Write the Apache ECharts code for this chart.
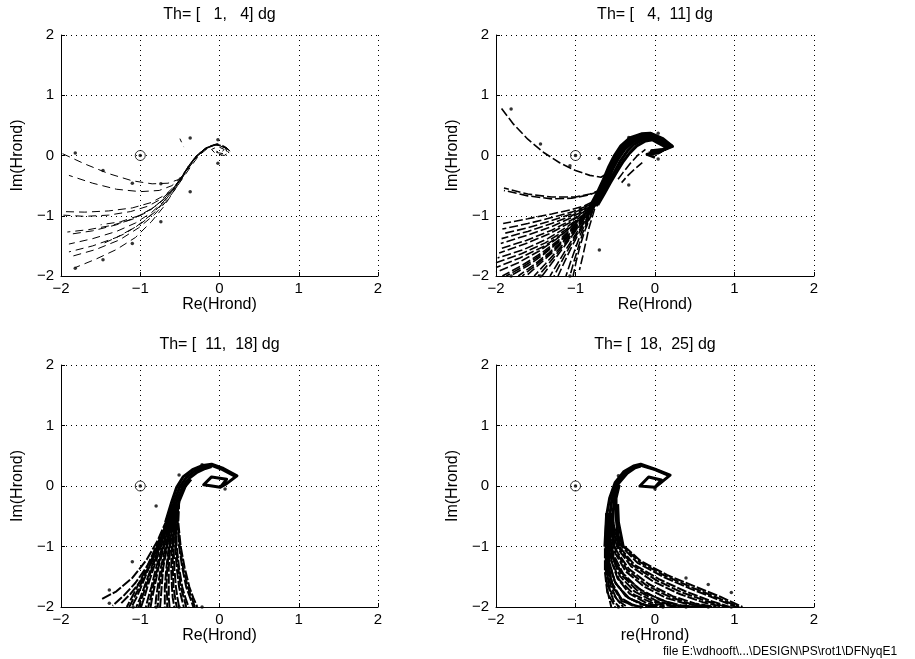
<!DOCTYPE html>
<html>
<head>
<meta charset="utf-8">
<title>Nyquist Hrond</title>
<script src="https://cdn.jsdelivr.net/npm/echarts@6/dist/echarts.min.js"></script>
<style>
  html, body { margin: 0; padding: 0; background: #fff; }
  #chart { width: 915px; height: 659px; }
</style>
</head>
<body>
<div id="chart"></div>
<script>
// titels en aslabels per subplot
const titles = ['Th= [   1,   4] dg', 'Th= [   4,  11] dg', 'Th= [  11,  18] dg', 'Th= [  18,  25] dg']
const xNames = ['Re(Hrond)', 'Re(Hrond)', 'Re(Hrond)', 're(Hrond)']
const yNames = ['Im(Hrond)', 'Im(Hrond)', 'Im(Hrond)', 'Im(Hrond)']
const axisTicks = [-2, -1, 0, 1, 2]
const criticalPoint = [[-1, 0]]
const footer = 'file E:\\vdhooft\\...\\DESIGN\\PS\\rot1\\DFNyqE1'

// ---- Th = [1, 4] ----
const p1Curves = [
  [[-1.98, 0.03], [-1.7, -0.14], [-1.4, -0.3], [-1.1, -0.42], [-0.85, -0.47], [-0.65, -0.46], [-0.52, -0.4], [-0.43, -0.26], [-0.34, -0.1], [-0.24, 0.05], [-0.12, 0.16], [-0.01, 0.2], [0.08, 0.14], [0.14, 0.06]],
  [[-1.9, -0.33], [-1.6, -0.46], [-1.3, -0.56], [-1.0, -0.6], [-0.76, -0.58], [-0.6, -0.5], [-0.48, -0.36], [-0.38, -0.17], [-0.28, 0.0], [-0.16, 0.13], [-0.04, 0.19], [0.07, 0.15], [0.13, 0.07]],
  [[-2.0, -0.93], [-1.7, -0.94], [-1.4, -0.92], [-1.1, -0.87], [-0.86, -0.78], [-0.68, -0.65], [-0.56, -0.5], [-0.46, -0.33], [-0.37, -0.14], [-0.27, 0.02], [-0.14, 0.15], [0.0, 0.19], [0.1, 0.11], [0.05, 0.03], [-0.04, 0.05]],
  [[-1.97, -0.99], [-1.7, -1.01], [-1.4, -0.99], [-1.12, -0.93], [-0.9, -0.84], [-0.72, -0.71], [-0.58, -0.54], [-0.48, -0.36], [-0.39, -0.17], [-0.29, 0.0], [-0.17, 0.13], [-0.03, 0.18], [0.08, 0.12], [0.12, 0.04]],
  [[-1.92, -1.27], [-1.65, -1.23], [-1.36, -1.16], [-1.1, -1.06], [-0.9, -0.93], [-0.73, -0.76], [-0.6, -0.58], [-0.5, -0.4], [-0.41, -0.21], [-0.31, -0.03], [-0.19, 0.11], [-0.06, 0.18], [0.06, 0.15], [0.13, 0.08]],
  [[-1.9, -1.31], [-1.6, -1.25], [-1.3, -1.15], [-1.06, -1.03], [-0.86, -0.89], [-0.7, -0.72], [-0.58, -0.55], [-0.48, -0.37], [-0.39, -0.18], [-0.28, -0.01], [-0.16, 0.13], [-0.03, 0.18], [0.07, 0.13], [0.1, 0.05]],
  [[-1.9, -1.47], [-1.6, -1.38], [-1.3, -1.26], [-1.06, -1.12], [-0.86, -0.95], [-0.71, -0.77], [-0.59, -0.58], [-0.49, -0.4], [-0.4, -0.21], [-0.3, -0.03], [-0.18, 0.11], [-0.05, 0.18], [0.06, 0.14]],
  [[-1.9, -1.6], [-1.6, -1.5], [-1.3, -1.36], [-1.05, -1.18], [-0.86, -0.98], [-0.7, -0.77], [-0.58, -0.57], [-0.48, -0.38], [-0.38, -0.19], [-0.28, -0.01], [-0.16, 0.12], [-0.04, 0.18]],
  [[-1.88, -1.68], [-1.56, -1.56], [-1.26, -1.4], [-1.02, -1.2], [-0.82, -0.98], [-0.67, -0.76], [-0.56, -0.56], [-0.46, -0.37], [-0.36, -0.18], [-0.26, 0.0], [-0.14, 0.13]],
  [[-1.82, -1.86], [-1.56, -1.72], [-1.3, -1.56], [-1.06, -1.36], [-0.86, -1.1], [-0.71, -0.86], [-0.6, -0.64], [-0.5, -0.44], [-0.41, -0.24], [-0.31, -0.05], [-0.2, 0.1], [-0.07, 0.18]],
  [[-1.5, -1.15], [-1.25, -1.1], [-1.02, -1.0], [-0.84, -0.87], [-0.69, -0.71], [-0.57, -0.53]],
  [[-1.45, -1.45], [-1.2, -1.3], [-0.98, -1.12], [-0.8, -0.92], [-0.66, -0.72]],
  [[-0.5, 0.28], [-0.45, 0.14]],
  [[0.14, 0.07], [0.06, 0.0], [-0.05, 0.03], [-0.1, 0.1], [-0.02, 0.15], [0.06, 0.1], [0.02, 0.05], [-0.04, 0.07]]
]
const p1Solid = []
const p1Dots = [[-1.82, 0.04], [-1.47, -0.25], [-1.1, -0.46], [-0.74, -0.47], [-0.37, 0.29], [-0.02, 0.26], [-0.02, -0.13],
  [-0.37, -0.6], [-0.74, -1.1], [-1.1, -1.46], [-1.47, -1.73], [-1.82, -1.87], [-1, 0]]

// ---- Th = [4, 11] ----
const p2Curves = [
  [[-1.93, 0.78], [-1.78, 0.52], [-1.6, 0.27], [-1.4, 0.05], [-1.2, -0.12], [-1.0, -0.25], [-0.82, -0.33], [-0.68, -0.36], [-0.6, -0.3]],
  [[-1.9, -0.54], [-1.6, -0.64], [-1.3, -0.69], [-1.0, -0.69], [-0.82, -0.64], [-0.7, -0.58]],
  [[-1.9, -0.58], [-1.6, -0.67], [-1.3, -0.72], [-1.05, -0.71], [-0.85, -0.66], [-0.72, -0.6]],
  [[-1.91, -1.13], [-1.6, -1.05], [-1.3, -0.97], [-1.05, -0.9], [-0.88, -0.83], [-0.76, -0.75]],
  [[-1.92, -1.22], [-1.6, -1.13], [-1.3, -1.03], [-1.05, -0.94], [-0.88, -0.85], [-0.76, -0.76]],
  [[-1.92, -1.3], [-1.6, -1.2], [-1.3, -1.08], [-1.05, -0.97], [-0.88, -0.86], [-0.76, -0.77]],
  [[-1.93, -1.38], [-1.6, -1.26], [-1.3, -1.13], [-1.05, -1.0], [-0.88, -0.88], [-0.76, -0.78]],
  [[-1.94, -1.46], [-1.6, -1.32], [-1.3, -1.18], [-1.05, -1.03], [-0.88, -0.9], [-0.76, -0.79]],
  [[-1.95, -1.55], [-1.62, -1.41], [-1.3, -1.24], [-1.05, -1.07], [-0.88, -0.92], [-0.77, -0.8]],
  [[-1.96, -1.62], [-1.64, -1.47], [-1.33, -1.3], [-1.08, -1.12], [-0.9, -0.95], [-0.77, -0.81]],
  [[-1.98, -1.7], [-1.65, -1.56], [-1.35, -1.38], [-1.1, -1.18], [-0.9, -0.98], [-0.77, -0.82]],
  [[-2.0, -1.78], [-1.68, -1.63], [-1.38, -1.45], [-1.13, -1.24], [-0.92, -1.01], [-0.78, -0.83]],
  [[-2.0, -1.86], [-1.7, -1.7], [-1.4, -1.51], [-1.15, -1.29], [-0.93, -1.04], [-0.78, -0.83]],
  [[-2.0, -1.94], [-1.72, -1.78], [-1.45, -1.58], [-1.2, -1.35], [-0.96, -1.08], [-0.78, -0.84]],
  [[-1.92, -2.0], [-1.68, -1.83], [-1.43, -1.62], [-1.18, -1.37], [-0.95, -1.09], [-0.78, -0.84]],
  [[-1.87, -2.0], [-1.64, -1.83], [-1.4, -1.62], [-1.16, -1.37], [-0.95, -1.09], [-0.78, -0.84]],
  [[-1.82, -2.0], [-1.6, -1.83], [-1.38, -1.62], [-1.15, -1.37], [-0.94, -1.09], [-0.78, -0.84]],
  [[-1.72, -2.0], [-1.53, -1.82], [-1.33, -1.61], [-1.12, -1.36], [-0.93, -1.09], [-0.78, -0.84]],
  [[-1.67, -2.0], [-1.5, -1.82], [-1.3, -1.6], [-1.1, -1.35], [-0.92, -1.08], [-0.78, -0.84]],
  [[-1.62, -2.0], [-1.46, -1.81], [-1.28, -1.6], [-1.09, -1.35], [-0.92, -1.08], [-0.78, -0.84]],
  [[-1.52, -2.0], [-1.38, -1.8], [-1.23, -1.58], [-1.06, -1.33], [-0.91, -1.07], [-0.78, -0.84]],
  [[-1.47, -2.0], [-1.34, -1.8], [-1.2, -1.57], [-1.04, -1.32], [-0.9, -1.07], [-0.77, -0.83]],
  [[-1.42, -2.0], [-1.3, -1.79], [-1.17, -1.56], [-1.03, -1.31], [-0.89, -1.06], [-0.77, -0.83]],
  [[-1.32, -2.0], [-1.22, -1.78], [-1.11, -1.54], [-0.99, -1.29], [-0.87, -1.05], [-0.77, -0.83]],
  [[-1.27, -2.0], [-1.18, -1.77], [-1.08, -1.53], [-0.97, -1.28], [-0.86, -1.05], [-0.76, -0.82]],
  [[-1.22, -2.0], [-1.14, -1.77], [-1.05, -1.52], [-0.95, -1.27], [-0.85, -1.04], [-0.76, -0.82]],
  [[-1.12, -2.0], [-1.06, -1.76], [-0.99, -1.5], [-0.92, -1.25], [-0.83, -1.02], [-0.76, -0.82]],
  [[-1.07, -2.0], [-1.02, -1.76], [-0.96, -1.5], [-0.9, -1.25], [-0.82, -1.02], [-0.75, -0.81]],
  [[-1.03, -2.0], [-0.99, -1.75], [-0.94, -1.49], [-0.88, -1.24], [-0.81, -1.01], [-0.75, -0.81]],
  [[-0.95, -1.9], [-0.91, -1.68], [-0.87, -1.44], [-0.83, -1.2], [-0.78, -0.98], [-0.74, -0.8]],
  [[-0.48, -0.42], [-0.4, -0.28], [-0.31, -0.13], [-0.22, 0.0], [-0.12, 0.1]],
  [[-0.42, -0.45], [-0.34, -0.33], [-0.25, -0.22], [-0.16, -0.12]]
]
const p2Solid = [
  [[-0.8, -0.8], [-0.72, -0.6], [-0.65, -0.4], [-0.58, -0.18], [-0.51, 0.0], [-0.43, 0.16], [-0.32, 0.29], [-0.17, 0.36], [-0.06, 0.37], [0.1, 0.28], [0.22, 0.15], [0.12, 0.1]],
  [[-0.78, -0.82], [-0.7, -0.62], [-0.63, -0.42], [-0.56, -0.2], [-0.49, -0.02], [-0.41, 0.14], [-0.3, 0.27], [-0.15, 0.35], [-0.05, 0.36], [0.08, 0.27], [0.21, 0.16], [0.1, 0.1], [-0.05, 0.08]],
  [[-0.77, -0.83], [-0.69, -0.63], [-0.61, -0.43], [-0.54, -0.21], [-0.47, -0.03], [-0.39, 0.12], [-0.29, 0.25], [-0.15, 0.32], [-0.05, 0.34], [0.08, 0.26], [0.2, 0.15], [0.09, 0.09], [-0.06, 0.07]],
  [[-0.76, -0.84], [-0.68, -0.64], [-0.6, -0.44], [-0.53, -0.22], [-0.46, -0.05], [-0.38, 0.1], [-0.28, 0.22], [-0.15, 0.3], [-0.05, 0.32], [0.07, 0.25], [0.19, 0.15], [0.08, 0.08], [-0.06, 0.06]],
  [[-0.74, -0.84], [-0.66, -0.65], [-0.58, -0.45], [-0.5, -0.25], [-0.43, -0.08], [-0.35, 0.07], [-0.26, 0.19], [-0.14, 0.27], [-0.04, 0.29], [0.06, 0.23], [0.17, 0.14], [0.06, 0.06], [-0.08, 0.04]],
  [[-0.72, -0.82], [-0.64, -0.64], [-0.56, -0.45], [-0.48, -0.27], [-0.4, -0.1], [-0.32, 0.04], [-0.23, 0.16], [-0.12, 0.24], [-0.03, 0.26], [0.05, 0.2], [0.15, 0.13], [0.04, 0.04], [-0.1, 0.02], [0.0, -0.03]]
]
const p2Dots = [[-1.81, 0.77], [-1.44, 0.19], [-1.07, -0.17], [-0.7, -0.05], [-0.33, 0.3], [0.04, 0.37], [0.04, -0.06],
  [-0.33, -0.49], [-0.7, -1.57], [-1.81, -2], [-1.44, -2], [-1.07, -2], [-1, 0]]

// ---- Th = [11, 18] ----
const p3Curves = [
  [[-0.62, -0.35], [-0.68, -0.6], [-0.78, -0.9], [-0.92, -1.22], [-1.1, -1.52], [-1.3, -1.74], [-1.5, -1.88]],
  [[-0.61, -0.35], [-0.67, -0.62], [-0.77, -0.95], [-0.9, -1.3], [-1.06, -1.6], [-1.2, -1.8], [-1.35, -1.98]],
  [[-0.6, -0.35], [-0.66, -0.62], [-0.75, -0.95], [-0.87, -1.3], [-1.0, -1.58], [-1.12, -1.78], [-1.25, -1.95]],
  [[-0.6, -0.3], [-0.66, -0.6], [-0.8, -1.0], [-0.92, -1.35], [-1.04, -1.67], [-1.11, -1.85], [-1.17, -2]],
  [[-0.6, -0.3], [-0.66, -0.6], [-0.79, -1.0], [-0.9, -1.35], [-1.01, -1.67], [-1.08, -1.85], [-1.14, -2]],
  [[-0.6, -0.3], [-0.65, -0.6], [-0.78, -1.0], [-0.89, -1.35], [-0.99, -1.67], [-1.05, -1.85], [-1.11, -2]],
  [[-0.59, -0.3], [-0.65, -0.6], [-0.76, -1.0], [-0.86, -1.35], [-0.95, -1.67], [-1.0, -1.85], [-1.05, -2]],
  [[-0.59, -0.3], [-0.64, -0.6], [-0.75, -1.0], [-0.85, -1.35], [-0.93, -1.67], [-0.98, -1.85], [-1.02, -2]],
  [[-0.59, -0.3], [-0.64, -0.6], [-0.74, -1.0], [-0.83, -1.35], [-0.91, -1.67], [-0.95, -1.85], [-0.99, -2]],
  [[-0.58, -0.3], [-0.63, -0.6], [-0.72, -1.0], [-0.8, -1.35], [-0.86, -1.67], [-0.9, -1.85], [-0.93, -2]],
  [[-0.58, -0.3], [-0.63, -0.6], [-0.71, -1.0], [-0.78, -1.35], [-0.84, -1.67], [-0.87, -1.85], [-0.9, -2]],
  [[-0.58, -0.3], [-0.62, -0.6], [-0.7, -1.0], [-0.77, -1.35], [-0.82, -1.67], [-0.85, -1.85], [-0.87, -2]],
  [[-0.57, -0.3], [-0.62, -0.6], [-0.68, -1.0], [-0.74, -1.35], [-0.78, -1.67], [-0.8, -1.85], [-0.81, -2]],
  [[-0.57, -0.3], [-0.61, -0.6], [-0.67, -1.0], [-0.72, -1.35], [-0.76, -1.67], [-0.77, -1.85], [-0.78, -2]],
  [[-0.57, -0.3], [-0.61, -0.6], [-0.66, -1.0], [-0.71, -1.35], [-0.73, -1.67], [-0.74, -1.85], [-0.75, -2]],
  [[-0.56, -0.3], [-0.6, -0.6], [-0.64, -1.0], [-0.67, -1.35], [-0.69, -1.67], [-0.69, -1.85], [-0.69, -2]],
  [[-0.56, -0.3], [-0.59, -0.6], [-0.63, -1.0], [-0.66, -1.35], [-0.67, -1.67], [-0.66, -1.85], [-0.66, -2]],
  [[-0.56, -0.3], [-0.59, -0.6], [-0.62, -1.0], [-0.64, -1.35], [-0.64, -1.67], [-0.64, -1.85], [-0.63, -2]],
  [[-0.55, -0.3], [-0.58, -0.6], [-0.6, -1.0], [-0.61, -1.35], [-0.6, -1.67], [-0.59, -1.85], [-0.57, -2]],
  [[-0.55, -0.3], [-0.57, -0.6], [-0.59, -1.0], [-0.59, -1.35], [-0.58, -1.67], [-0.56, -1.85], [-0.54, -2]],
  [[-0.55, -0.3], [-0.57, -0.6], [-0.58, -1.0], [-0.57, -1.35], [-0.55, -1.67], [-0.53, -1.85], [-0.51, -2]],
  [[-0.54, -0.3], [-0.56, -0.6], [-0.56, -1.0], [-0.54, -1.35], [-0.51, -1.67], [-0.48, -1.85], [-0.45, -2]],
  [[-0.53, -0.3], [-0.55, -0.6], [-0.55, -1.0], [-0.52, -1.35], [-0.49, -1.67], [-0.45, -1.85], [-0.42, -2]],
  [[-0.53, -0.3], [-0.55, -0.6], [-0.54, -1.0], [-0.51, -1.35], [-0.47, -1.67], [-0.43, -1.85], [-0.39, -2]],
  [[-0.52, -0.3], [-0.53, -0.6], [-0.51, -1.0], [-0.47, -1.35], [-0.42, -1.67], [-0.37, -1.85], [-0.33, -2]],
  [[-0.52, -0.3], [-0.53, -0.6], [-0.5, -1.0], [-0.46, -1.35], [-0.4, -1.67], [-0.35, -1.85], [-0.31, -2]],
  [[-0.51, -0.3], [-0.52, -0.6], [-0.49, -1.0], [-0.44, -1.35], [-0.38, -1.67], [-0.33, -1.85], [-0.28, -2]]
]
const p3Solid = [
  [[-0.68, -0.6], [-0.6, -0.25], [-0.54, -0.02], [-0.46, 0.15], [-0.34, 0.27], [-0.21, 0.34], [-0.1, 0.36], [0.05, 0.29], [0.22, 0.17], [0.09, 0.04], [0.01, -0.02], [-0.2, 0.02], [-0.1, 0.15], [0.09, 0.11], [0.01, -0.02]],
  [[-0.64, -0.6], [-0.57, -0.25], [-0.5, -0.01], [-0.42, 0.14], [-0.31, 0.25], [-0.2, 0.31], [-0.1, 0.34], [0.04, 0.27], [0.2, 0.16]],
  [[-0.6, -0.6], [-0.54, -0.25], [-0.46, 0.0], [-0.38, 0.13], [-0.28, 0.23], [-0.18, 0.29], [-0.1, 0.32]],
  [[-0.56, -0.6], [-0.51, -0.25], [-0.43, 0.0], [-0.36, 0.11]]
]
const p3Dots = [[-0.22, 0.35], [-0.51, 0.18], [-0.8, -0.33], [0.07, -0.05], [-1.1, -1.25], [-1.39, -1.72], [-1.39, -1.94],
  [-1.09, -2], [-0.8, -2], [-0.51, -2], [-0.22, -2], [-1, 0]]

// ---- Th = [18, 25] ----
const p4Curves = [
  [[-0.55, -0.45], [-0.51, -0.7], [-0.4, -0.98], [-0.18, -1.24], [0.15, -1.47], [0.5, -1.66], [0.82, -1.83], [1.1, -2]],
  [[-0.55, -0.45], [-0.51, -0.71], [-0.41, -0.99], [-0.2, -1.25], [0.12, -1.48], [0.47, -1.68], [0.79, -1.85], [1.06, -2]],
  [[-0.56, -0.45], [-0.52, -0.72], [-0.42, -1.0], [-0.22, -1.27], [0.1, -1.5], [0.45, -1.7], [0.76, -1.86], [1.02, -2]],
  [[-0.56, -0.45], [-0.53, -0.74], [-0.44, -1.02], [-0.26, -1.3], [0.05, -1.54], [0.38, -1.74], [0.68, -1.89], [0.94, -2]],
  [[-0.56, -0.45], [-0.53, -0.75], [-0.45, -1.03], [-0.28, -1.31], [0.02, -1.56], [0.34, -1.76], [0.64, -1.9], [0.9, -2]],
  [[-0.57, -0.45], [-0.54, -0.76], [-0.46, -1.05], [-0.3, -1.33], [-0.02, -1.58], [0.3, -1.78], [0.6, -1.92], [0.86, -2]],
  [[-0.57, -0.45], [-0.55, -0.78], [-0.48, -1.08], [-0.33, -1.37], [-0.08, -1.62], [0.22, -1.82], [0.5, -1.94], [0.77, -2]],
  [[-0.57, -0.45], [-0.55, -0.79], [-0.49, -1.09], [-0.35, -1.39], [-0.11, -1.64], [0.18, -1.83], [0.45, -1.95], [0.72, -2]],
  [[-0.58, -0.45], [-0.56, -0.8], [-0.5, -1.11], [-0.37, -1.41], [-0.14, -1.66], [0.14, -1.85], [0.4, -1.95], [0.68, -2]],
  [[-0.58, -0.45], [-0.57, -0.82], [-0.52, -1.14], [-0.4, -1.45], [-0.2, -1.7], [0.06, -1.88], [0.32, -1.97], [0.58, -2]],
  [[-0.58, -0.45], [-0.57, -0.83], [-0.53, -1.15], [-0.42, -1.47], [-0.23, -1.72], [0.02, -1.9], [0.27, -1.98], [0.53, -2]],
  [[-0.59, -0.45], [-0.58, -0.84], [-0.54, -1.17], [-0.44, -1.49], [-0.26, -1.74], [-0.02, -1.91], [0.22, -1.98], [0.48, -2]],
  [[-0.59, -0.45], [-0.58, -0.85], [-0.53, -1.2], [-0.38, -1.5], [-0.14, -1.76], [0.2, -1.94], [0.4, -2]],
  [[-0.59, -0.45], [-0.59, -0.87], [-0.55, -1.22], [-0.45, -1.55], [-0.26, -1.8], [0.0, -1.95], [0.3, -2]],
  [[-0.59, -0.45], [-0.59, -0.86], [-0.56, -1.2], [-0.47, -1.53], [-0.32, -1.78], [-0.1, -1.94], [0.12, -2]],
  [[-0.6, -0.45], [-0.6, -0.88], [-0.58, -1.23], [-0.51, -1.57], [-0.37, -1.82], [-0.17, -1.96], [0.02, -2]],
  [[-0.6, -0.45], [-0.6, -0.9], [-0.57, -1.28], [-0.5, -1.6], [-0.34, -1.85], [-0.12, -1.97], [0.07, -2]],
  [[-0.6, -0.45], [-0.61, -0.9], [-0.58, -1.3], [-0.49, -1.62], [-0.32, -1.86], [-0.05, -2]],
  [[-0.6, -0.45], [-0.61, -0.9], [-0.59, -1.27], [-0.54, -1.6], [-0.43, -1.85], [-0.26, -1.98], [-0.1, -2]],
  [[-0.6, -0.45], [-0.61, -0.93], [-0.59, -1.32], [-0.53, -1.66], [-0.42, -1.9], [-0.18, -2]],
  [[-0.6, -0.45], [-0.62, -0.95], [-0.6, -1.35], [-0.52, -1.7], [-0.4, -1.9], [-0.25, -2]],
  [[-0.6, -0.45], [-0.61, -0.92], [-0.6, -1.3], [-0.56, -1.64], [-0.48, -1.88], [-0.35, -2]],
  [[-0.61, -0.45], [-0.62, -0.97], [-0.61, -1.37], [-0.57, -1.72], [-0.4, -2]],
  [[-0.61, -0.45], [-0.62, -0.94], [-0.61, -1.34], [-0.58, -1.68], [-0.52, -1.9], [-0.45, -2]],
  [[-0.61, -0.45], [-0.62, -0.96], [-0.62, -1.38], [-0.6, -1.72], [-0.55, -2]],
  [[-0.61, -0.45], [-0.63, -1.0], [-0.63, -1.42], [-0.6, -1.76], [-0.5, -2]]
]
const p4Solid = [
  [[-0.63, -1.0], [-0.61, -0.5], [-0.57, -0.2], [-0.5, 0.06], [-0.39, 0.24], [-0.27, 0.33], [-0.18, 0.36], [0.0, 0.28], [0.19, 0.18], [0.06, 0.04], [0.0, -0.02], [-0.19, 0.0], [-0.08, 0.15], [0.08, 0.1], [0.0, -0.02]],
  [[-0.58, -1.0], [-0.57, -0.5], [-0.54, -0.2], [-0.48, 0.05], [-0.37, 0.22], [-0.26, 0.31], [-0.18, 0.34], [0.0, 0.27], [0.18, 0.17]],
  [[-0.52, -1.0], [-0.53, -0.5], [-0.51, -0.2], [-0.46, 0.04], [-0.35, 0.21], [-0.25, 0.3], [-0.18, 0.33]],
  [[-0.45, -1.0], [-0.49, -0.5], [-0.49, -0.2], [-0.45, 0.02]],
  [[-0.4, -1.0], [-0.46, -0.6], [-0.47, -0.3]]
]
const p4Dots = [[-0.46, 0.17], [-0.18, 0.35], [0.0, -0.05], [0.39, -1.52], [0.67, -1.63], [0.96, -1.76],
  [-0.46, -2], [-0.18, -2], [0.1, -2], [0.39, -2], [0.67, -2], [0.96, -2], [-1, 0]]

const panels = [
  { curves: p1Curves, solid: p1Solid, dots: p1Dots, dashWidth: 1, dash: [8, 5] },
  { curves: p2Curves, solid: p2Solid, dots: p2Dots, dashWidth: 1.6, dash: [9, 3] },
  { curves: p3Curves, solid: p3Solid, dots: p3Dots, dashWidth: 2, dash: [10, 2] },
  { curves: p4Curves, solid: p4Solid, dots: p4Dots, dashWidth: 2, dash: [10, 2] }
]

// plaatsing van de vier assenstelsels (px)
const gridBoxes = [
  { left: 61, top: 35, width: 317, height: 241 },
  { left: 496, top: 35, width: 318, height: 241 },
  { left: 61, top: 365, width: 317, height: 242 },
  { left: 496, top: 365, width: 318, height: 242 }
]

const FONT = 'Liberation Sans, Arial, Helvetica, sans-serif'
const minus = (v) => String(v).replace('-', '\u2212')

const grid = gridBoxes.map((g) => Object.assign({ outerBoundsMode: 'none', containLabel: false }, g))

const xAxis = gridBoxes.map((g, i) => ({
  gridIndex: i,
  type: 'value',
  min: axisTicks[0],
  max: axisTicks[axisTicks.length - 1],
  interval: 1,
  name: xNames[i],
  nameLocation: 'middle',
  nameGap: 19,
  nameTextStyle: { color: '#000', fontSize: 16, fontFamily: FONT },
  axisLine: { onZero: false, lineStyle: { color: '#000', width: 1 } },
  axisTick: { inside: true, length: 4, lineStyle: { color: '#000' } },
  axisLabel: { color: '#000', fontSize: 15, fontFamily: FONT, margin: 5, formatter: minus },
  splitLine: { show: true, lineStyle: { color: '#000', width: 1, type: [1, 4] } }
}))

const yAxis = gridBoxes.map((g, i) => ({
  gridIndex: i,
  type: 'value',
  min: axisTicks[0],
  max: axisTicks[axisTicks.length - 1],
  interval: 1,
  name: yNames[i],
  nameLocation: 'middle',
  nameGap: 35,
  nameTextStyle: { color: '#000', fontSize: 16, fontFamily: FONT },
  axisLine: { onZero: false, lineStyle: { color: '#000', width: 1 } },
  axisTick: { inside: true, length: 4, lineStyle: { color: '#000' } },
  axisLabel: { color: '#000', fontSize: 15, fontFamily: FONT, margin: 7, formatter: minus },
  splitLine: { show: true, lineStyle: { color: '#000', width: 1, type: [1, 4] } }
}))

const series = []
panels.forEach((p, i) => {
  p.curves.forEach((c, k) => {
    series.push({
      type: 'line', xAxisIndex: i, yAxisIndex: i, data: c,
      showSymbol: false, silent: true,
      // streepjes per curve laten verspringen, anders lopen ze gelijk
      lineStyle: { color: '#000', width: p.dashWidth, type: p.dash, dashOffset: (k * 4) % 11 }
    })
  })
  p.solid.forEach((c) => {
    series.push({
      type: 'line', xAxisIndex: i, yAxisIndex: i, data: c,
      showSymbol: false, silent: true,
      lineStyle: { color: '#000', width: 3, join: 'round' }
    })
  })
  series.push({
    type: 'scatter', xAxisIndex: i, yAxisIndex: i, data: p.dots,
    symbol: 'circle', symbolSize: 3.5, silent: true,
    itemStyle: { color: '#000' }
  })
  // kritisch punt (-1,0) als omcirkeld punt
  series.push({
    type: 'scatter', xAxisIndex: i, yAxisIndex: i, data: criticalPoint,
    symbol: 'circle', symbolSize: 10, silent: true,
    itemStyle: { color: 'rgba(0,0,0,0)', borderColor: '#000', borderWidth: 1 }
  })
})

const graphic = titles.map((t, i) => ({
  type: 'text',
  x: gridBoxes[i].left + gridBoxes[i].width / 2,
  y: gridBoxes[i].top - 20,
  style: { text: t, fill: '#000', font: '16px ' + FONT, textAlign: 'center', textVerticalAlign: 'middle' }
}))
graphic.push({
  type: 'text', x: 663, y: 652,
  style: { text: footer, fill: '#000', font: '12px ' + FONT, textAlign: 'left', textVerticalAlign: 'middle' }
})

const chartInstance = echarts.init(document.getElementById('chart'), null, { renderer: 'canvas' })
chartInstance.setOption({
  animation: false,
  backgroundColor: '#fff',
  grid,
  xAxis,
  yAxis,
  series,
  graphic
})
</script>
</body>
</html>
